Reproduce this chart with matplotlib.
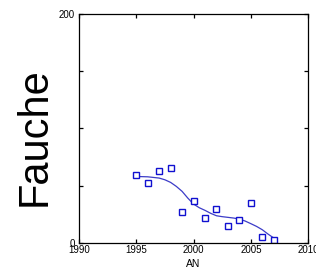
import matplotlib
matplotlib.use("Agg")
import matplotlib.pyplot as plt

# observed values
years = [1995, 1996, 1997, 1998, 1999, 2000, 2001, 2002, 2003, 2004, 2005, 2006, 2007]
fauche = [59, 52.3, 62.8, 65.1, 26.7, 36.9, 22.1, 29.9, 15.1, 20.0, 35.2, 4.9, 2.6]

# smoothed trend
trend_years = [1995, 1996, 1997, 1997.5, 1998, 1998.5, 1999, 1999.5, 2000, 2000.5,
               2001, 2001.5, 2002, 2002.5, 2003, 2003.5, 2004, 2004.5, 2005, 2005.5,
               2006, 2006.5, 2007]
trend = [58.1, 57.8, 56.7, 55.2, 52.9, 49.4, 45.1, 39.2, 34.0, 30.8,
         28.5, 25.9, 23.8, 23.0, 22.4, 21.8, 20.9, 19.2, 16.9, 14.5,
         11.6, 7.8, 4.4]

x_ticks = [1990, 1995, 2000, 2005, 2010]
y_ticks = [0, 50, 100, 150, 200]
y_labels = ["0", "", "", "", "200"]

plt.rcParams["font.family"] = ["Liberation Sans", "DejaVu Sans"]

fig = plt.figure(figsize=(3.16, 2.79), dpi=100)
ax = fig.add_axes([0.25, 0.129, 0.725, 0.821])

ax.plot(trend_years, trend, color="#3c3cc8", linewidth=0.9)
ax.plot(years, fauche, linestyle="none", marker="s", markersize=4,
        markerfacecolor="white", markeredgecolor="#1010d0", markeredgewidth=1.0)

ax.set_xlim(1990, 2010)
ax.set_ylim(0, 200)
ax.set_xticks(x_ticks)
ax.set_yticks(y_ticks)
ax.set_yticklabels(y_labels)
ax.tick_params(direction="in", top=True, right=True, length=3, width=0.9,
               labelsize=7, pad=1.5)
ax.tick_params(axis="y", pad=3)
for spine in ax.spines.values():
    spine.set_linewidth(0.9)

ax.set_xlabel("AN", fontsize=7.5, labelpad=3)
fig.text(0.111, 0.512, "Fauche", rotation=90, fontsize=30, ha="center", va="center")

fig.savefig("out.png", dpi=100)
